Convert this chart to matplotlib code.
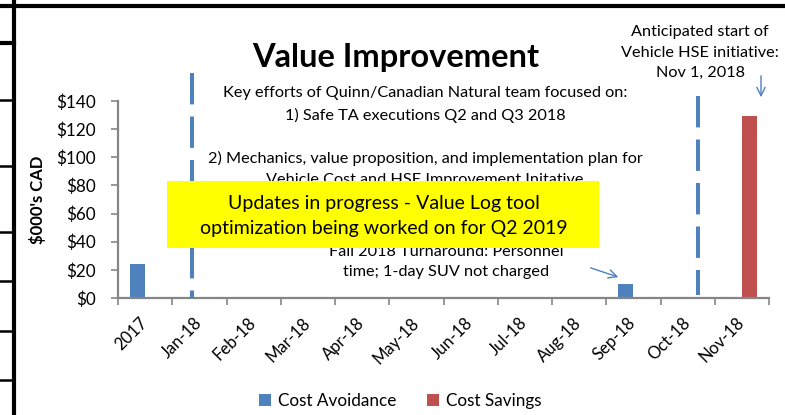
import matplotlib
matplotlib.use("Agg")
import matplotlib.pyplot as plt
from matplotlib.patches import Patch, Rectangle, FancyArrowPatch
from matplotlib.lines import Line2D
import numpy as np

categories = ["2017", "Jan-18", "Feb-18", "Mar-18", "Apr-18", "May-18", "Jun-18",
              "Jul-18", "Aug-18", "Sep-18", "Oct-18", "Nov-18"]
cost_avoidance = [24, 0, 0, 0, 0, 0, 0, 0, 0, 10, 0, 0]
cost_savings = [0, 0, 0, 0, 0, 0, 0, 0, 0, 0, 0, 129]
y_ticks = [0, 20, 40, 60, 80, 100, 120, 140]

BLUE = "#4F81BD"
RED = "#C0504D"
GRAY = "#868686"

plt.rcParams["font.family"] = ["Lato", "DejaVu Sans"]

W, H = 785, 415
fig = plt.figure(figsize=(W / 100, H / 100), dpi=100)
fig.patch.set_facecolor("white")


def fx(x):
    return x / W


def fy(y):
    return 1 - y / H


# axes placement (pixels): x 118..769, y 101..298
ax = fig.add_axes([fx(118), fy(298), (769 - 118) / W, (298 - 101) / H])
x = np.arange(len(categories))
bw = 0.28
ax.bar(x - bw / 2, cost_avoidance, bw, color=BLUE, label="Cost Avoidance", zorder=2)
ax.bar(x + bw / 2, cost_savings, bw, color=RED, label="Cost Savings", zorder=2)
ax.set_xlim(-0.5, len(categories) - 0.5)
ax.set_ylim(0, 140)
ax.set_yticks(y_ticks)
ax.set_yticklabels([f"${v}" for v in y_ticks], fontsize=12.3)
ax.set_xticks(np.arange(len(categories) + 1) - 0.5)
ax.set_xticklabels([])
ax.set_xticks(x, minor=True)
ax.set_xticklabels(categories, minor=True, rotation=45, ha="right", va="center",
                   rotation_mode="anchor", fontsize=12)
ax.tick_params(axis="x", which="minor", length=0, pad=16)
ax.tick_params(axis="x", which="major", length=5, width=1.2, color=GRAY, direction="out")
ax.tick_params(axis="y", length=5, width=1.2, color=GRAY, direction="out", pad=11)
for s in ["top", "right"]:
    ax.spines[s].set_visible(False)
for s in ["left", "bottom"]:
    ax.spines[s].set_color(GRAY)
    ax.spines[s].set_linewidth(1.6)
ax.set_facecolor("none")

fig.text(fx(38), fy(200), "$000's CAD", rotation=90, ha="center", va="center",
         fontsize=12, fontweight="bold")

# title
fig.text(fx(396), fy(57), "Value Improvement", ha="center", va="center",
         fontsize=23.5, fontweight="bold")

# dashed vertical separators
for xp, y0, y1 in [(191.5, 73, 298), (698, 96, 295)]:
    fig.add_artist(Line2D([fx(xp), fx(xp)], [fy(y0), fy(y1)], color=BLUE, lw=2.9,
                          dashes=(7.8, 3), zorder=3))

FS = 11.7
# annotation texts
fig.text(fx(425), fy(93), "Key efforts of Quinn/Canadian Natural team focused on:",
         ha="center", va="center", fontsize=FS)
fig.text(fx(425), fy(115), "1) Safe TA executions Q2 and Q3 2018",
         ha="center", va="center", fontsize=FS)
fig.text(fx(425), fy(158), "2) Mechanics, value proposition, and implementation plan for",
         ha="center", va="center", fontsize=FS)
fig.text(fx(425), fy(180), "Vehicle Cost and HSE Improvement Initative",
         ha="center", va="center", fontsize=FS)
fig.text(fx(446), fy(252), "Fall 2018 Turnaround: Personnel",
         ha="center", va="center", fontsize=FS)
fig.text(fx(446), fy(272), "time; 1-day SUV not charged",
         ha="center", va="center", fontsize=FS)

fig.text(fx(700), fy(32), "Anticipated start of", ha="center", va="center", fontsize=FS)
fig.text(fx(700), fy(53), "Vehicle HSE initiative:", ha="center", va="center", fontsize=FS)
fig.text(fx(700), fy(73), "Nov 1, 2018", ha="center", va="center", fontsize=FS)

# yellow box
fig.add_artist(Rectangle((fx(167), fy(248)), (599 - 167) / W, (248 - 181) / H,
                         facecolor="#FFFF00", edgecolor="none", zorder=5))
fig.text(fx(384), fy(203), "Updates in progress - Value Log tool", ha="center",
         va="center", fontsize=14, zorder=6)
fig.text(fx(384), fy(228), "optimization being worked on for Q2 2019", ha="center",
         va="center", fontsize=14, zorder=6)

# arrows
fig.add_artist(FancyArrowPatch((fx(588), fy(267)), (fx(621), fy(278)),
                               arrowstyle="->,head_length=6,head_width=3",
                               color=BLUE, lw=1.0, transform=fig.transFigure))
fig.add_artist(FancyArrowPatch((fx(761), fy(73)), (fx(761), fy(100)),
                               arrowstyle="->,head_length=6,head_width=3",
                               color=BLUE, lw=1.0, transform=fig.transFigure))

# legend
handles = [Patch(facecolor=BLUE), Patch(facecolor=RED)]
fig.legend(handles, ["Cost Avoidance", "Cost Savings"], loc="center",
           bbox_to_anchor=(fx(400), fy(401)), ncol=2, frameon=False, fontsize=12.3,
           handlelength=0.7, handleheight=0.7, handletextpad=0.4, columnspacing=1.8)

# frame borders (table cell edges)
fig.add_artist(Line2D([0, 1], [fy(6.5), fy(6.5)], color="black", lw=3))
fig.add_artist(Line2D([fx(14), fx(14)], [0, 1], color="black", lw=3))
for yy, lw in [(43, 3), (100, 1.8), (166, 1.8), (232, 1.8), (281, 1.8), (331, 1.8), (380, 1.8)]:
    fig.add_artist(Line2D([0, fx(14)], [fy(yy), fy(yy)], color="black", lw=lw))

fig.savefig("out.png", dpi=100)
